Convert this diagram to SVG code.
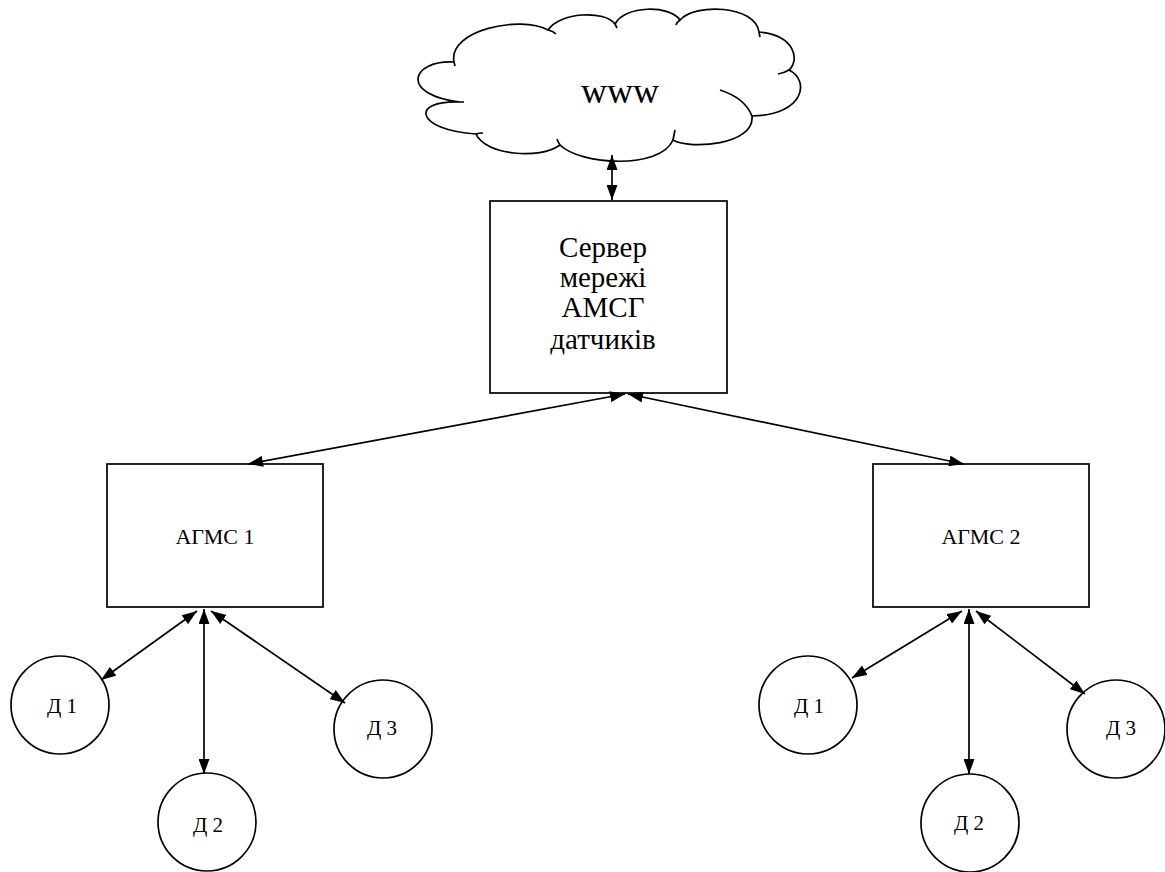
<svg xmlns="http://www.w3.org/2000/svg" width="1165" height="872" viewBox="0 0 1165 872">
<defs>
<marker id="ah" viewBox="0 0 15 11" refX="15" refY="5.5" markerWidth="15" markerHeight="11" markerUnits="userSpaceOnUse" orient="auto-start-reverse">
<path d="M0,0 L15,5.5 L0,11 z" fill="#000"/>
</marker>
<style>
.shape{fill:#fff;stroke:#000;stroke-width:1.7}
.line{fill:none;stroke:#000;stroke-width:1.7;marker-start:url(#ah);marker-end:url(#ah)}
.t{font-family:"Liberation Serif","Times New Roman",serif;fill:#000;text-anchor:middle}
.hook{fill:none;stroke:#000;stroke-width:1.7}
</style>
</defs>
<rect width="1165" height="872" fill="#fff"/>
<g id="cloud">
<path class="shape" d="M454,62 C448,30 520,15 548,30 C560,12 605,10 615,24 C625,5 670,5 680,20 C695,3 755,5 759,32 C795,35 800,60 789,70 C810,80 805,115 752,116 C755,145 690,150 673,140 C660,170 580,165 560,145 C540,160 485,155 476,134 C415,130 410,100 460,102 C400,95 410,60 454,62 Z"/>
<path class="hook" d="M548,30 Q553,31 556,34 M615,24 L617,28 M680,20 Q677,22 676,25 M759,32 L760,37 M789,70 Q784,73 778,74 M720,90 Q745,98 752,116 M673,140 Q674,135 675,130 M560,145 Q558,142 557,139 M476,134 Q479,133 483,133 M460,102 L464,102 M454,62 L455,66"/>
<text class="t" x="620" y="103" font-size="36">www</text>
</g>
<g id="server">
<rect class="shape" x="490" y="201" width="237" height="192"/>
<text class="t" x="603" y="257" font-size="29">Сервер</text>
<text class="t" x="603" y="287" font-size="29">мережі</text>
<text class="t" x="603" y="317" font-size="29">АМСГ</text>
<text class="t" x="603" y="349" font-size="29">датчиків</text>
</g>
<g id="agms1">
<rect class="shape" x="107" y="464" width="216" height="143"/>
<text class="t" x="215" y="544" font-size="22">АГМС 1</text>
</g>
<g id="agms2">
<rect class="shape" x="873" y="464" width="216" height="143"/>
<text class="t" x="981" y="544" font-size="22">АГМС 2</text>
</g>
<g id="d1a"><circle class="shape" cx="60" cy="705" r="49"/><text class="t" x="62" y="713" font-size="21">Д 1</text></g>
<g id="d2a"><circle class="shape" cx="207" cy="822" r="49"/><text class="t" x="208" y="832" font-size="21">Д 2</text></g>
<g id="d3a"><circle class="shape" cx="383" cy="729" r="49"/><text class="t" x="382" y="735" font-size="21">Д 3</text></g>
<g id="d1b"><circle class="shape" cx="808" cy="705" r="49"/><text class="t" x="809" y="713" font-size="21">Д 1</text></g>
<g id="d2b"><circle class="shape" cx="970" cy="823" r="49"/><text class="t" x="969" y="830" font-size="21">Д 2</text></g>
<g id="d3b"><circle class="shape" cx="1116" cy="729" r="49"/><text class="t" x="1121" y="735" font-size="21">Д 3</text></g>
<g id="connectors">
<line class="line" x1="612" y1="155" x2="612" y2="200"/>
<line class="line" x1="625" y1="394" x2="248" y2="464"/>
<line class="line" x1="628" y1="394" x2="964" y2="464"/>
<line class="line" x1="197" y1="611" x2="101" y2="680"/>
<line class="line" x1="204" y1="609" x2="204" y2="774"/>
<line class="line" x1="211" y1="611" x2="345" y2="703"/>
<line class="line" x1="962" y1="611" x2="852" y2="678"/>
<line class="line" x1="969" y1="609" x2="969" y2="774"/>
<line class="line" x1="976" y1="611" x2="1085" y2="694"/>
</g>
</svg>
